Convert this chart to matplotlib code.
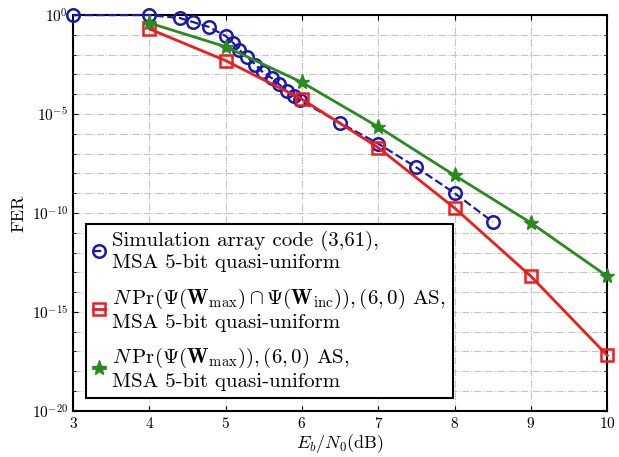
import numpy as np
import matplotlib.pyplot as plt
from matplotlib.ticker import FixedLocator

plt.rcParams['font.family'] = 'serif'
plt.rcParams['font.serif'] = ['cmr10', 'DejaVu Serif']
plt.rcParams['mathtext.fontset'] = 'cm'
plt.rcParams['axes.formatter.use_mathtext'] = True

# simulation: array code (3,61), MSA 5-bit quasi-uniform
sim_snr = [3.0, 4.0, 4.4, 4.57, 4.78, 5.0, 5.1, 5.18, 5.28, 5.39, 5.49, 5.61, 5.7, 5.8, 5.9, 5.97,
           6.5, 7.0, 7.5, 8.0, 8.5]
sim_fer = [0, 0, -0.15, -0.35, -0.6, -1.06, -1.41, -1.77, -2.12, -2.5, -2.9, -3.2, -3.5, -3.85, -4.1, -4.3,
           -5.45, -6.5, -7.7, -9.0, -10.45]

# N Pr(Psi(Wmax) n Psi(Winc)), (6,0) AS
snr = [4, 5, 6, 7, 8, 9, 10]
inc_fer = [-0.7, -2.3, -4.25, -6.7, -9.75, -13.2, -17.2]
# N Pr(Psi(Wmax)), (6,0) AS
max_fer = [-0.4, -1.6, -3.4, -5.65, -8.1, -10.5, -13.2]

fig = plt.figure(figsize=(6.19, 4.57), dpi=100)
ax = fig.add_axes([0.118, 0.101, 0.863, 0.866])

ax.semilogy(sim_snr, 10.0 ** np.array(sim_fer), '--o', color='#1a1aa8', lw=1.6,
            ms=9, mfc='none', mew=1.8, clip_on=False, zorder=3,
            label='Simulation array code (3,61),\nMSA 5-bit quasi-uniform')
ax.semilogy(snr, 10.0 ** np.array(inc_fer), '-s', color='#ee1c1c', lw=2,
            ms=8, mfc='none', mew=1.8, clip_on=False, zorder=3,
            label=r'$N\,\mathrm{Pr}(\Psi(\mathbf{W}_{\max})\cap\Psi(\mathbf{W}_{\mathrm{inc}})),(6,0)$ AS,'
                  '\nMSA 5-bit quasi-uniform')
ax.semilogy(snr, 10.0 ** np.array(max_fer), '-*', color='#2a8a1e', lw=2,
            ms=11, clip_on=False, zorder=3,
            label=r'$N\,\mathrm{Pr}(\Psi(\mathbf{W}_{\max})),(6,0)$ AS,'
                  '\nMSA 5-bit quasi-uniform')

ax.set_xlim(3, 10)
ax.set_ylim(1e-20, 1)
ax.set_xticks(range(3, 11))
ax.yaxis.set_major_locator(FixedLocator([1e-20, 1e-15, 1e-10, 1e-5, 1]))
ax.yaxis.set_minor_locator(FixedLocator([10.0 ** k for k in range(-20, 1)]))
ax.yaxis.set_minor_formatter(plt.NullFormatter())
ax.tick_params(which='both', direction='in', top=True, right=True, labelsize=11)
ax.grid(True, which='both', color='#c4c4c4', linestyle='-.', lw=0.8)

ax.set_xlabel(r'$E_b/N_0$(dB)', fontsize=13, labelpad=1)
ax.set_ylabel('FER', fontsize=13)

for s in ax.spines.values():
    s.set_linewidth(1.5)

leg = ax.legend(loc='lower left', fontsize=15, frameon=True, fancybox=False,
                edgecolor='black', framealpha=1, handlelength=0.6, handletextpad=0.3,
                labelspacing=0.7, borderaxespad=0.6, borderpad=0.35)
leg.get_frame().set_linewidth(1.5)
leg.set_zorder(5)

fig.savefig('out.png', dpi=100)
